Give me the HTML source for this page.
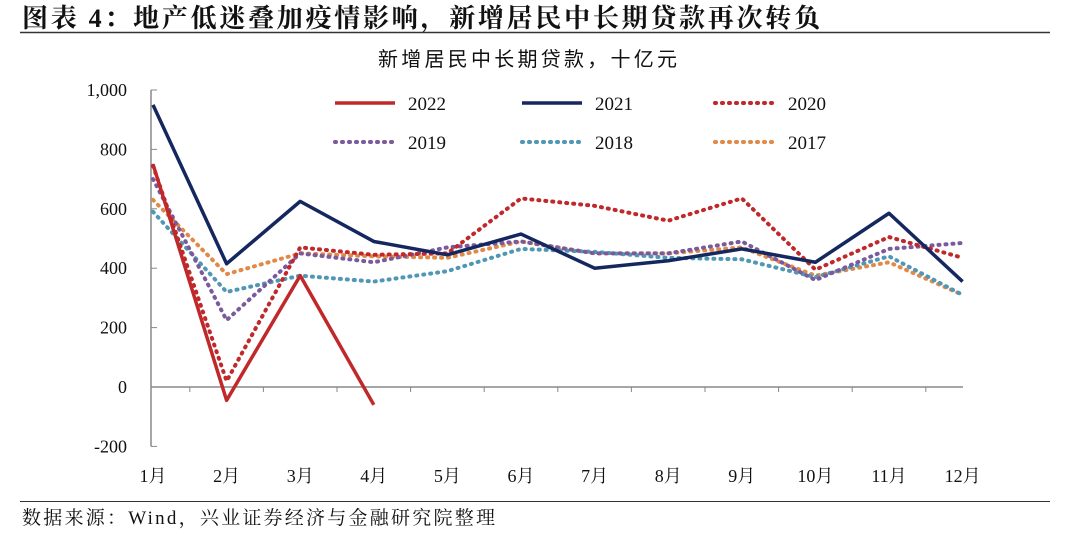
<!DOCTYPE html>
<html><head><meta charset="utf-8"><style>
body{margin:0;background:#fff;width:1080px;height:535px;overflow:hidden;font-family:"Liberation Serif","Noto Serif CJK SC",serif;}
</style></head><body>
<svg id="chart" width="1080" height="535" xmlns="http://www.w3.org/2000/svg">
<text x="22" y="27" font-size="26" font-weight="bold" textLength="798" lengthAdjust="spacing" font-family="'Liberation Serif','Noto Serif CJK SC',serif" fill="#111">图表 4：地产低迷叠加疫情影响，新增居民中长期贷款再次转负</text>
<line x1="20" y1="32.5" x2="1050" y2="32.5" stroke="#333" stroke-width="1.5"/>
<text x="378" y="66" font-size="20" textLength="299" lengthAdjust="spacing" font-family="'Liberation Serif','Noto Sans CJK SC',serif" fill="#111">新增居民中长期贷款，十亿元</text>
<line x1="20" y1="501.5" x2="1050" y2="501.5" stroke="#333" stroke-width="1"/>
<text x="22" y="524" font-size="19" textLength="473" lengthAdjust="spacing" font-family="'Liberation Serif','Noto Serif CJK SC',serif" fill="#111">数据来源：Wind，兴业证券经济与金融研究院整理</text>
<g id="axes"></g><g id="series"></g><g id="legend"></g>
</svg>
<script>
const months=["1月","2月","3月","4月","5月","6月","7月","8月","9月","10月","11月","12月"];
const yTicks=[-200,0,200,400,600,800,1000];
const yTickLabels=["-200","0","200","400","600","800","1,000"];
const s2022=[750,-45,375,-60];
const s2021=[950,415,625,490,445,515,400,425,465,420,585,355];
const s2020=[745,20,470,445,450,635,610,560,635,395,505,435];
const s2019=[700,225,450,420,470,490,450,450,490,360,465,485];
const s2018=[590,320,375,355,390,465,455,435,430,370,440,310];
const s2017=[630,380,450,440,435,490,450,450,470,375,420,310];
const seriesNames=["2022","2021","2020","2019","2018","2017"];
const seriesData=[s2022,s2021,s2020,s2019,s2018,s2017];
const colors=["#c0282a","#14275f","#c0282a","#7a5a9c","#4f97b4","#e08a4a"];
const dashed=[false,false,true,true,true,true];
const NS="http://www.w3.org/2000/svg";
const x=i=>153+i*73.6;
const y=v=>387-v*0.2970;
function mk(t,a,p){const e=document.createElementNS(NS,t);for(const k in a)e.setAttribute(k,a[k]);p.appendChild(e);return e;}
const ax=document.getElementById('axes');
let yl=mk('line',{x1:151,y1:y(1000),x2:151,y2:y(-200),stroke:'#888','stroke-width':1.5},ax);


yTicks.forEach((v,i)=>{
 let t=mk('line',{x1:151,y1:y(v),x2:157,y2:y(v),stroke:'#888'},ax);
 
 
 let l=mk('text',{x:127,y:y(v)+6,'text-anchor':'end','font-size':18,fill:'#111'},ax);
 l.textContent=yTickLabels[i];
 
 
});
let xl=mk('line',{x1:151,y1:y(0),x2:963,y2:y(0),stroke:'#888','stroke-width':1.5},ax);


months.forEach((m,i)=>{
 if(i<months.length-1){
 let t=mk('line',{x1:x(i)+36.8,y1:y(0),x2:x(i)+36.8,y2:y(0)+5,stroke:'#888'},ax);
 
 
 }
 let l=mk('text',{x:x(i),y:482,'text-anchor':'middle','font-size':18,fill:'#111','font-family':"'Liberation Serif','Noto Serif CJK SC',serif"},ax);
 l.textContent=m;
 
 
});
const sg=document.getElementById('series');
for(let k=seriesData.length-1;k>=0;k--){
 const d=seriesData[k].map((v,i)=>(i?'L':'M')+x(i)+','+y(v)).join('');
 const p=mk('path',{d:d,fill:'none',stroke:colors[k],'stroke-width':dashed[k]?4:3.5,'stroke-dasharray':dashed[k]?'1 6':'none','stroke-linecap':dashed[k]?'round':'butt','stroke-linejoin':'round'},sg);
 
 
}
const lg=document.getElementById('legend');
const lx=[335,522,715],ly=[103,142];
seriesNames.forEach((n,k)=>{
 const cx=lx[k%3],cy=ly[Math.floor(k/3)];
 const g=mk('g',{},lg);
 
 
 mk('line',{x1:cx,y1:cy,x2:cx+60,y2:cy,stroke:colors[k],'stroke-width':dashed[k]?4:3.5,'stroke-dasharray':dashed[k]?'1 6':'none','stroke-linecap':dashed[k]?'round':'butt'},g);
 const t=mk('text',{x:cx+73,y:cy+7,'font-size':19,fill:'#111'},g);
 t.textContent=n;
});
</script>
</body></html>
